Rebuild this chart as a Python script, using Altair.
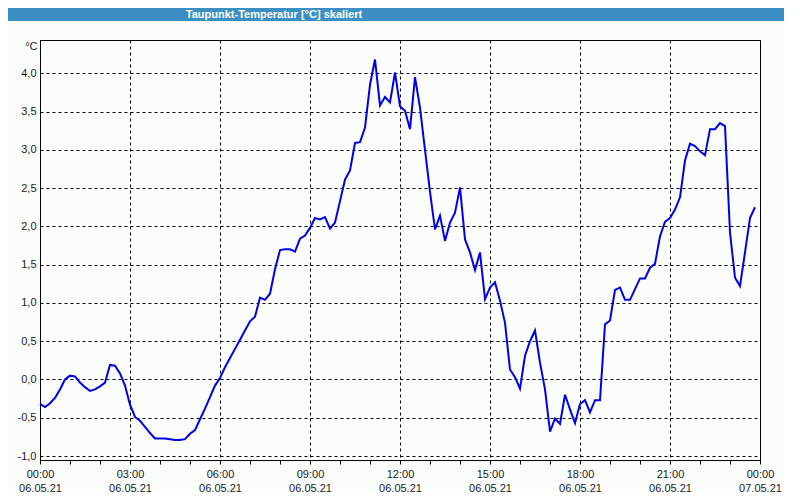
import altair as alt
import pandas as pd

TITLE = "Taupunkt-Temperatur [°C] skaliert"
UNIT = "°C"

# dew point readings, every 10 minutes from 06.05.21 00:00
values = [
    -0.32, -0.36, -0.31, -0.24, -0.13, 0.00, 0.05, 0.04, -0.04, -0.10,
    -0.15, -0.13, -0.09, -0.04, 0.19, 0.18, 0.08, -0.08, -0.33, -0.49,
    -0.54, -0.62, -0.70, -0.77, -0.77, -0.77, -0.78, -0.79, -0.79, -0.78,
    -0.71, -0.66, -0.52, -0.38, -0.23, -0.08, 0.02, 0.16, 0.28, 0.40,
    0.52, 0.64, 0.76, 0.82, 1.07, 1.04, 1.12, 1.44, 1.69, 1.70,
    1.70, 1.67, 1.84, 1.88, 1.98, 2.11, 2.09, 2.12, 1.97, 2.05,
    2.33, 2.61, 2.73, 3.09, 3.10, 3.29, 3.85, 4.18, 3.58, 3.69,
    3.62, 4.01, 3.57, 3.51, 3.27, 3.95, 3.55, 3.00, 2.45, 1.96,
    2.14, 1.81, 2.05, 2.18, 2.51, 1.83, 1.66, 1.43, 1.66, 1.05,
    1.20, 1.27, 1.03, 0.74, 0.13, 0.03, -0.12, 0.31, 0.50, 0.64,
    0.22, -0.13, -0.68, -0.51, -0.58, -0.20, -0.39, -0.57, -0.32, -0.27,
    -0.43, -0.27, -0.27, 0.72, 0.77, 1.17, 1.20, 1.04, 1.04, 1.18,
    1.32, 1.32, 1.46, 1.51, 1.87, 2.06, 2.11, 2.22, 2.38, 2.86,
    3.08, 3.05, 2.98, 2.93, 3.27, 3.27, 3.35, 3.31, 1.92, 1.33,
    1.22, 1.66, 2.11, 2.25,
]
times = [f"2021-05-06T{k // 6:02d}:{(k % 6) * 10:02d}:00Z" for k in range(len(values))]

y_ticks = [-1.0, -0.5, 0.0, 0.5, 1.0, 1.5, 2.0, 2.5, 3.0, 3.5, 4.0]
x_ticks = [alt.DateTime(year=2021, month=5, date=6, hours=h, utc=True) for h in range(24)] + [
    alt.DateTime(year=2021, month=5, date=7, hours=0, utc=True)
]

df = pd.DataFrame({"t": times, "v": values})
title_df = pd.DataFrame({"title": [TITLE]})

FONT = "Liberation Sans"
TXT = "#1a1a2a"

x_enc = alt.X(
    "t:T",
    scale=alt.Scale(
        type="utc",
        domain=[
            alt.DateTime(year=2021, month=5, date=6, hours=0, utc=True),
            alt.DateTime(year=2021, month=5, date=7, hours=0, utc=True),
        ],
    ),
    axis=alt.Axis(
        title=None,
        values=x_ticks,
        labelExpr="utchours(datum.value) % 3 === 0 ? [utcFormat(datum.value, '%H:%M'), utcFormat(datum.value, '%d.%m.%y')] : ''",
        grid=True,
        gridColor="black",
        gridDash=[3, 3],
        gridOpacity={"condition": {"test": "utchours(datum.value) % 3 === 0", "value": 1}, "value": 0},
        tickSize=4,
        tickColor="black",
        domainColor="black",
        labelFont=FONT,
        labelFontSize=11,
        labelColor=TXT,
        labelPadding=4,
        labelLineHeight=14,
        labelFlush=False,
        labelOverlap=False,
        labelBound=False,
    ),
)

y_enc = alt.Y(
    "v:Q",
    scale=alt.Scale(domain=[-1.052, 4.435], nice=False, zero=False),
    axis=alt.Axis(
        title=UNIT,
        titleAngle=0,
        titleAlign="right",
        titleBaseline="middle",
        titleX=-3,
        titleY=6,
        titleFont=FONT,
        titleFontSize=11,
        titleFontWeight="normal",
        titleColor=TXT,
        values=y_ticks,
        labelExpr="replace(replace(format(datum.value, '.1f'), '.', ','), '\u2212', '-')",
        ticks=False,
        labelPadding=4,
        grid=True,
        gridColor="black",
        gridDash=[3, 3],
        domainColor="black",
        labelFont=FONT,
        labelFontSize=11,
        labelColor=TXT,
    ),
)

line = alt.Chart(df).mark_line(color="#0000e6", strokeWidth=2).encode(x=x_enc, y=y_enc)

bar = alt.Chart(title_df).mark_rect(color="#3c8fc3").encode(
    x=alt.value(-40), x2=alt.value(760), y=alt.value(-40), y2=alt.value(-19)
)
title_txt = alt.Chart(title_df).mark_text(
    color="white",
    font="Liberation Sans Narrow, Liberation Sans",
    fontSize=11,
    fontWeight="bold",
    align="center",
    baseline="alphabetic",
).encode(x=alt.value(234), y=alt.value(-22), text="title:N")

chart = (
    alt.layer(line, bar, title_txt)
    .properties(
        width=720,
        height=420,
        autosize=alt.AutoSizeParams(type="none"),
        padding={"left": 32, "top": 32, "right": 24, "bottom": 32},
        background="#fbfdfb",
    )
    .configure_view(stroke="black", strokeWidth=1)
)

chart.save("out.html", embed_options={"renderer": "svg", "actions": False})
